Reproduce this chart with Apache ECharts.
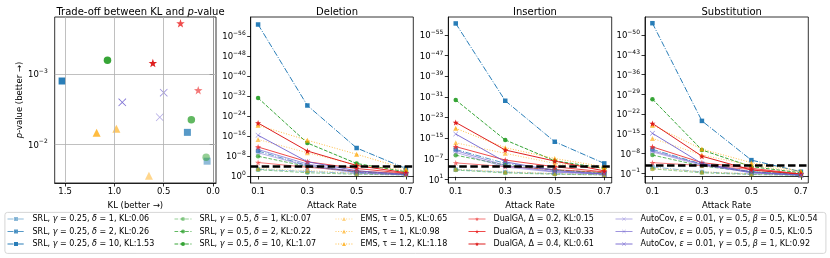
<!DOCTYPE html>
<html>
<head>
<meta charset="utf-8">
<script src="https://cdn.jsdelivr.net/npm/echarts@6/dist/echarts.min.js"></script>
<style>html,body{margin:0;padding:0;background:#fff}#c{width:830px;height:258px}</style>
</head>
<body>
<div id="c"></div>
<script>
// ---------------- data ----------------
const seriesNames = [
  'SRL, γ = 0.25, δ = 1, KL:0.06',
  'SRL, γ = 0.25, δ = 2, KL:0.26',
  'SRL, γ = 0.25, δ = 10, KL:1.53',
  'SRL, γ = 0.5, δ = 1, KL:0.07',
  'SRL, γ = 0.5, δ = 2, KL:0.22',
  'SRL, γ = 0.5, δ = 10, KL:1.07',
  'EMS, τ = 0.5, KL:0.65',
  'EMS, τ = 1, KL:0.98',
  'EMS, τ = 1.2, KL:1.18',
  'DualGA, Δ = 0.2, KL:0.15',
  'DualGA, Δ = 0.3, KL:0.33',
  'DualGA, Δ = 0.4, KL:0.61',
  'AutoCov, ε = 0.01, γ = 0.5, β = 0.5, KL:0.54',
  'AutoCov, ε = 0.05, γ = 0.5, β = 0.5, KL:0.5',
  'AutoCov, ε = 0.01, γ = 0.5, β = 1, KL:0.92'
];
const attackRates = [0.1, 0.3, 0.5, 0.7];
const klValues = [0.06, 0.26, 1.53, 0.07, 0.22, 1.07, 0.65, 0.98, 1.18, 0.15, 0.33, 0.61, 0.54, 0.5, 0.92];
// -log10(p-value) for the trade-off scatter
const tradeoffNegLogP = [1.76, 2.17, 2.90, 1.815, 2.35, 3.195, 1.553, 2.22, 2.165, 2.77, 3.72, 3.156, 2.384, 2.734, 2.597];
// -log10(p-value) per attack rate
const deletionNegLogP = [
  [2.7, 1.8, 1.0, 0.5],
  [10.0, 4.2, 1.6, 0.8],
  [60.6, 28.2, 11.2, 3.0],
  [2.5, 1.3, 0.7, 0.4],
  [7.9, 3.8, 1.8, 0.8],
  [31.2, 13.2, 5.0, 1.7],
  [3.0, 2.2, 1.1, 0.6],
  [14.6, 9.3, 4.4, 2.4],
  [20.3, 14.3, 8.7, 2.8],
  [5.4, 3.5, 2.0, 0.9],
  [11.6, 5.7, 3.0, 1.1],
  [21.2, 10.0, 4.2, 1.3],
  [9.3, 4.0, 1.2, 0.4],
  [10.6, 4.8, 1.5, 0.5],
  [16.3, 5.7, 2.1, 0.6]
];
const insertionNegLogP = [
  [2.8, 1.8, 1.2, 0.8],
  [10.6, 5.2, 2.7, 1.4],
  [59.5, 29.5, 13.6, 5.2],
  [2.6, 1.5, 1.0, 0.7],
  [8.4, 4.5, 2.6, 1.6],
  [29.8, 14.3, 6.2, 3.3],
  [3.0, 2.0, 1.3, 0.9],
  [13.2, 9.1, 5.2, 3.3],
  [18.8, 11.3, 7.1, 3.9],
  [5.4, 4.0, 2.8, 1.7],
  [11.7, 6.5, 3.9, 1.9],
  [21.1, 10.4, 6.1, 2.3],
  [9.5, 3.8, 1.8, 1.0],
  [10.2, 4.4, 2.0, 1.1],
  [16.6, 5.8, 2.4, 1.1]
];
const substitutionNegLogP = [
  [3.3, 1.5, 0.8, 0.4],
  [9.5, 4.3, 1.6, 0.6],
  [54.2, 19.6, 5.7, 1.6],
  [2.6, 1.2, 0.6, 0.3],
  [7.5, 3.6, 1.6, 0.6],
  [27.3, 9.3, 3.4, 1.2],
  [2.8, 1.6, 0.9, 0.5],
  [13.4, 7.5, 3.9, 1.5],
  [18.1, 9.6, 4.8, 1.8],
  [4.8, 3.8, 2.4, 0.8],
  [10.4, 4.8, 2.8, 0.8],
  [18.7, 7.1, 2.2, 0.7],
  [8.6, 3.9, 1.3, 0.4],
  [9.0, 4.2, 1.2, 0.3],
  [15.2, 4.5, 1.5, 0.4]
];
const thresholdNegLogP = 4;
// tick values
const klTicks = [0, 0.5, 1.0, 1.5];
const tradeoffTicks = [2, 3];
const deletionTicks = [0, 8, 16, 24, 32, 40, 48, 56];
const insertionTicks = [-1, 7, 15, 23, 31, 39, 47, 55];
const substitutionTicks = [1, 8, 15, 22, 29, 36, 43, 50];
const attackTicks = [0.1, 0.3, 0.5, 0.7];
const panelTitles = ['Deletion', 'Insertion', 'Substitution'];

// ---------------- styles ----------------
const FF = "'DejaVu Sans', sans-serif";
const colors = [
  'rgba(31,119,180,0.5)', 'rgba(31,119,180,0.75)', 'rgba(31,119,180,0.95)',
  'rgba(44,160,44,0.5)', 'rgba(44,160,44,0.75)', 'rgba(44,160,44,0.95)',
  'rgba(255,165,0,0.45)', 'rgba(255,165,0,0.6)', 'rgba(255,165,0,0.75)',
  'rgba(235,30,30,0.6)', 'rgba(235,30,30,0.8)', 'rgba(220,20,20,0.95)',
  'rgba(106,90,205,0.5)', 'rgba(106,90,205,0.65)', 'rgba(106,90,205,0.85)'
];
const STAR = 'path://M0,-10 L2.35,-3.24 9.51,-3.09 3.8,1.24 5.88,8.09 0,4.2 -5.88,8.09 -3.8,1.24 -9.51,-3.09 -2.35,-3.24 Z';
const XMARK = 'path://M-10,-8.6 L-8.6,-10 0,-1.4 8.6,-10 10,-8.6 1.4,0 10,8.6 8.6,10 0,1.4 -8.6,10 -10,8.6 -1.4,0 Z';
function familyOf(i) { return Math.floor(i / 3); }
const famSymbol = ['rect', 'circle', 'triangle', STAR, XMARK];
const famLineSize = [4.5, 4.5, 5, 6, 5];
const famScatterSize = [7, 7.5, 8, 8.5, 8];
const famDash = [[6, 1.6, 1, 1.6], [3.7, 1.6], [1, 1.65], 'solid', 'solid'];

function supLabel(v) {
  const e = -v;
  const s = e < 0 ? '\u2212' + (-e) : '' + e;
  return '{b|10}{s|' + s + '}';
}
const supRich = {
  b: { fontSize: 8.5, fontFamily: FF, color: '#000', lineHeight: 11, verticalAlign: 'bottom' },
  s: { fontSize: 6, fontFamily: FF, color: '#000', lineHeight: 7, verticalAlign: 'top' }
};

const grids = [
  { left: 54.7, top: 17, width: 161.3, height: 166 },
  { left: 250.7, top: 17, width: 162.6, height: 166 },
  { left: 448.3, top: 17, width: 163.4, height: 166 },
  { left: 645, top: 17, width: 163.3, height: 166 }
].map(g => Object.assign(g, { show: true, borderColor: '#000', borderWidth: 0.8, containLabel: false }));

const axisCommon = {
  axisLine: { show: true, lineStyle: { color: '#000', width: 0.8 } },
  axisTick: { show: true, inside: false, length: 3.5, lineStyle: { color: '#000', width: 0.8 } },
  splitLine: { show: false },
  nameTextStyle: { fontSize: 8.5, fontFamily: FF, color: '#000' }
};

const xAxes = [];
const yAxes = [];
xAxes.push(Object.assign({}, axisCommon, {
  type: 'value', gridIndex: 0, min: -0.03, max: 1.605, inverse: true,
  axisTick: Object.assign({}, axisCommon.axisTick, { customValues: klTicks }),
  axisLabel: { customValues: klTicks, formatter: v => v.toFixed(1), fontSize: 8.5, fontFamily: FF, color: '#000', margin: 4.5 },
  name: 'KL (better →)', nameLocation: 'middle', nameGap: 14
}));
yAxes.push(Object.assign({}, axisCommon, {
  type: 'value', gridIndex: 0, min: 1.45, max: 3.81,
  axisTick: Object.assign({}, axisCommon.axisTick, { customValues: tradeoffTicks }),
  axisLabel: { customValues: tradeoffTicks, formatter: supLabel, rich: supRich, margin: 7 },
  name: '{i|p}-value (better →)', nameLocation: 'middle', nameGap: 26,
  nameTextStyle: { fontSize: 8.5, fontFamily: FF, color: '#000', rich: { i: { fontStyle: 'italic', fontSize: 8.5, fontFamily: FF, color: '#000' } } }
}));
const yRanges = [[-2.8, 63.6], [-2.4, 62.0], [-2.4, 56.4]];
const yTickSets = [deletionTicks, insertionTicks, substitutionTicks];
for (let p = 0; p < 3; p++) {
  xAxes.push(Object.assign({}, axisCommon, {
    type: 'value', gridIndex: p + 1, min: 0.07, max: 0.73,
    axisTick: Object.assign({}, axisCommon.axisTick, { customValues: attackTicks }),
    axisLabel: { customValues: attackTicks, formatter: v => v.toFixed(1), fontSize: 8.5, fontFamily: FF, color: '#000', margin: 4.5 },
    name: 'Attack Rate', nameLocation: 'middle', nameGap: 14
  }));
  yAxes.push(Object.assign({}, axisCommon, {
    type: 'value', gridIndex: p + 1, min: yRanges[p][0], max: yRanges[p][1],
    axisTick: Object.assign({}, axisCommon.axisTick, { customValues: yTickSets[p] }),
    axisLabel: { customValues: yTickSets[p], formatter: supLabel, rich: supRich, margin: 5 }
  }));
}

const series = [];
const panelData = [deletionNegLogP, insertionNegLogP, substitutionNegLogP];
for (let p = 0; p < 3; p++) {
  for (let i = 0; i < seriesNames.length; i++) {
    const f = familyOf(i);
    series.push({
      type: 'line', name: seriesNames[i], xAxisIndex: p + 1, yAxisIndex: p + 1,
      data: attackRates.map((x, j) => [x, panelData[p][i][j]]),
      symbol: famSymbol[f], symbolSize: famLineSize[f], showSymbol: true,
      lineStyle: { color: colors[i], width: 1, type: famDash[f] },
      itemStyle: { color: colors[i], borderWidth: 0 },
      z: 3, silent: true
    });
  }
  series.push({
    type: 'line', xAxisIndex: p + 1, yAxisIndex: p + 1, data: [], z: 10, silent: true,
    markLine: {
      silent: true, symbol: ['none', 'none'], label: { show: false }, animation: false,
      lineStyle: { color: '#000', width: 2.5, type: [7.5, 3.5] },
      data: [{ yAxis: thresholdNegLogP }]
    }
  });
}
// grid lines for trade-off panel
series.push({
  type: 'line', xAxisIndex: 0, yAxisIndex: 0, data: [], z: 1, silent: true,
  markLine: {
    silent: true, symbol: ['none', 'none'], label: { show: false }, animation: false,
    lineStyle: { color: '#b0b0b0', width: 0.8, type: 'solid' },
    data: klTicks.map(v => ({ xAxis: v })).concat(tradeoffTicks.map(v => ({ yAxis: v })))
  }
});
for (let i = 0; i < seriesNames.length; i++) {
  const f = familyOf(i);
  series.push({
    type: 'scatter', name: seriesNames[i], xAxisIndex: 0, yAxisIndex: 0,
    data: [[klValues[i], tradeoffNegLogP[i]]],
    symbol: famSymbol[f], symbolSize: famScatterSize[f],
    itemStyle: { color: colors[i], borderWidth: 0, opacity: 1 }, z: 4, silent: true
  });
}

const legendLefts = [7, 174, 335, 468, 615];
const legends = legendLefts.map((l, k) => ({
  orient: 'vertical', left: l, top: 214, padding: 0,
  itemWidth: 17, itemHeight: 5, itemGap: 2.5, selectedMode: false,
  data: seriesNames.slice(3 * k, 3 * k + 3).map((n, j) => ({
    name: n,
    lineStyle: { width: 1, color: colors[3 * k + j], type: famDash[k] },
    itemStyle: { color: colors[3 * k + j], borderWidth: 0 }
  })),
  formatter: n => n.replace(/([γδεβ])/g, '{i|$1}'),
  textStyle: {
    fontSize: 8, fontFamily: FF, color: '#000', lineHeight: 10, padding: [0, 0, 0, 3],
    rich: { i: { fontStyle: 'italic', fontSize: 8, fontFamily: FF, color: '#000', lineHeight: 10 } }
  }
}));

const titleCenters = [332, 530, 726.7];
const titles = [{
  text: 'Trade-off between KL and {i|p}-value', left: 135.5, top: 2.5, textAlign: 'center',
  textStyle: { fontSize: 10, fontWeight: 'normal', fontFamily: FF, color: '#000',
    rich: { i: { fontStyle: 'italic', fontSize: 10, fontFamily: FF, color: '#000' } } }
}].concat(panelTitles.map((t, k) => ({
  text: t, left: titleCenters[k], top: 2.5, textAlign: 'center',
  textStyle: { fontSize: 10, fontWeight: 'normal', fontFamily: FF, color: '#000' }
})));

const chart = echarts.init(document.getElementById('c'), null, { renderer: 'canvas' });
chart.setOption({
  animation: false,
  backgroundColor: '#fff',
  title: titles,
  grid: grids,
  xAxis: xAxes,
  yAxis: yAxes,
  legend: legends,
  graphic: [{
    type: 'rect', left: 4.5, top: 212, z: -1,
    shape: { width: 821, height: 41, r: 2.5 },
    style: { fill: '#fff', stroke: '#cccccc', lineWidth: 0.8 }
  }],
  series: series
});
</script>
</body>
</html>
